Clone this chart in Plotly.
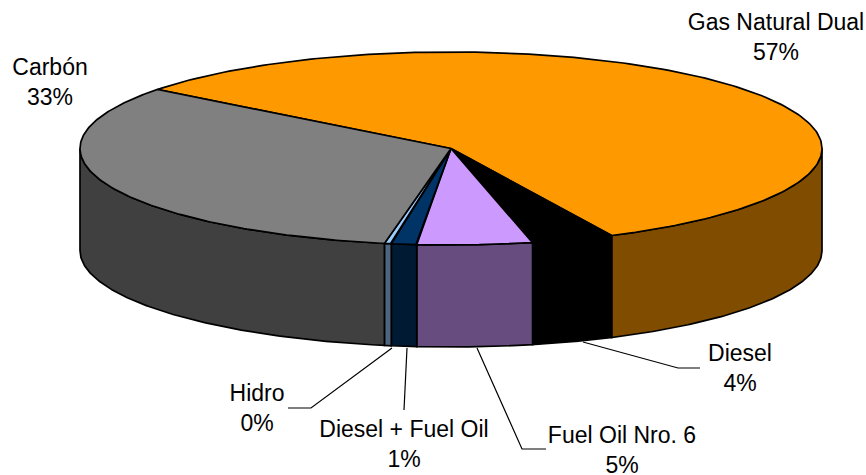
import numpy as np
import plotly.graph_objects as go

# --- data ---
categories = ["Gas Natural Dual", "Diesel", "Fuel Oil Nro. 6", "Diesel + Fuel Oil", "Hidro", "Carbón"]
values = [57.4, 3.6, 5.0, 1.1, 0.3, 32.6]
top_colors = ["#FF9900", "#000000", "#CC99FF", "#003366", "#99CCFF", "#808080"]
wall_colors = ["#7F4C00", "#000000", "#664C7F", "#001A33", "#4D667F", "#404040"]
label_x = [776, 740, 622, 404, 257, 50]
label_y = [39, 370, 452, 446, 410, 84]
leader_x = [[583, 678, 700], [477, 522, 546], [407, 404], [392, 311, 288]]
leader_y = [[342, 368, 368], [348, 449, 449], [348, 410], [348, 408, 408]]

# --- pie geometry (pixel-like plot units) ---
CX, CY, RX, RY, DEPTH = 451, 148.5, 371, 96.5, 102
START = 307.7


def ell(a, dy=0):
    a = np.radians(a)
    return CX + RX * np.sin(a), CY - RY * np.cos(a) + dy


fig = go.Figure()
edges = START + np.cumsum([0] + values) * 3.6
LINE = dict(color="#000000", width=1.7)

# side walls: only the part facing the viewer (90..270 deg clockwise from top)
for i, col in enumerate(wall_colors):
    a0, a1 = edges[i], edges[i + 1]
    for k in (-360, 0, 360):
        lo, hi = max(a0 + k, 90), min(a1 + k, 270)
        if hi > lo:
            t = np.linspace(lo, hi, 120)
            xt, yt = ell(t)
            xb, yb = ell(t[::-1], DEPTH)
            fig.add_trace(go.Scatter(
                x=np.r_[xt, xb, xt[0]], y=np.r_[yt, yb, yt[0]], mode="lines",
                fill="toself", fillcolor=col, line=LINE, hoverinfo="skip"))

# top faces
for i, col in enumerate(top_colors):
    t = np.linspace(edges[i], edges[i + 1], 200)
    xt, yt = ell(t)
    fig.add_trace(go.Scatter(
        x=np.r_[CX, xt, CX], y=np.r_[CY, yt, CY], mode="lines",
        fill="toself", fillcolor=col, line=LINE, hoverinfo="skip",
        name=categories[i]))

# leader lines
for lx, ly in zip(leader_x, leader_y):
    fig.add_trace(go.Scatter(x=lx, y=ly, mode="lines",
                             line=dict(color="#000000", width=1.2), hoverinfo="skip"))

# labels
texts = [f"{c}<br>{round(v)}%" for c, v in zip(categories, values)]
fig.add_trace(go.Scatter(
    x=label_x, y=label_y, mode="text", text=texts, textposition="middle center",
    textfont=dict(family="Liberation Sans", size=23, color="#000000"), hoverinfo="skip",
    cliponaxis=False))

fig.update_layout(
    width=866, height=475, margin=dict(l=0, r=0, t=0, b=0),
    paper_bgcolor="#FFFFFF", plot_bgcolor="#FFFFFF", showlegend=False,
    xaxis=dict(range=[0, 866], visible=False),
    yaxis=dict(range=[475, 0], visible=False),
)
fig.write_html("out.html", config={"displayModeBar": False},
               post_script="document.body.style.margin='0';document.body.style.overflow='hidden';")
